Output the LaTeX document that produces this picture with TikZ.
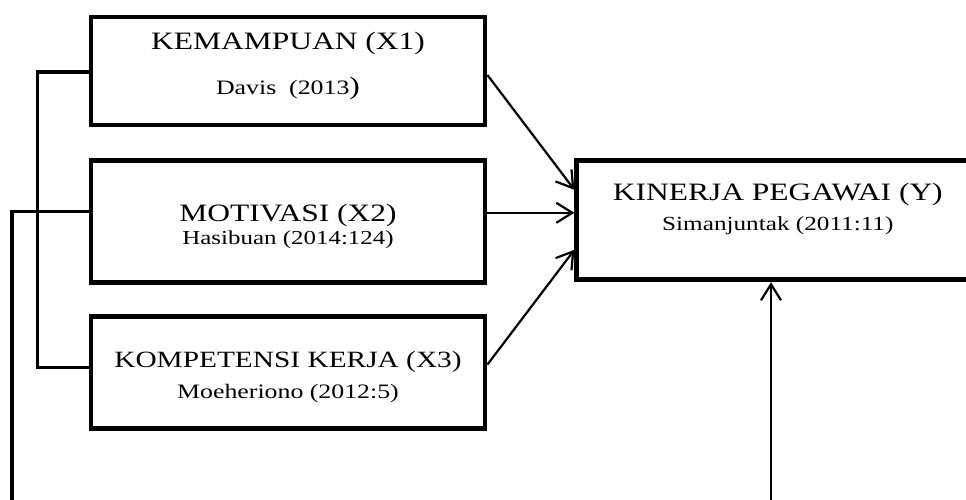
\documentclass[tikz,border=0pt]{standalone}
\usepackage{fontspec}
\setmainfont{Liberation Serif}[FakeStretch=1.26]
\usetikzlibrary{arrows.meta, positioning}

\begin{document}
\begin{tikzpicture}[
    x=1pt, y=-1pt,
    node distance=31pt and 87pt,
    vbox/.style={rectangle, draw=black, line width=4.8pt, minimum width=394pt, inner sep=0pt},
    vtitle/.style={anchor=base, inner sep=0pt, font=\fontsize{25}{30}\selectfont},
    vref/.style={anchor=base, inner sep=0pt, font=\fontsize{20.5}{24}\selectfont},
    arrow/.style={-{Straight Barb[length=16pt, width=20pt]}, line width=2.2pt},
    link/.style={line width=3.2pt}
]
\useasboundingbox (0,0) rectangle (966,500);

% --- variabel bebas ---
\node[vbox, minimum height=108pt] (x1) at (288,71) {};
\node[vbox, minimum height=122pt, below=of x1] (x2) {};
\node[vbox, minimum height=112pt, below=29pt of x2] (x3) {};

% --- variabel terikat ---
\node[vbox, minimum width=402pt, minimum height=119pt, right=of x2, yshift=1.5pt] (y) {};

% --- teks ---
\node[vtitle, yshift=21.5pt] (x1t) at (x1.center) {KEMAMPUAN (X1)};
\node[vref, yshift=-24pt] (x1r) at (x1.center) {Davis\ \ (2013{\fontsize{25}{30}\selectfont)}};
\node[vtitle] (x2t) at (x2.center) {MOTIVASI (X2)};
\node[vref, yshift=-23pt, font=\fontsize{19.8}{24}\selectfont] (x2r) at (x2.center) {Hasibuan (2014:124)};
\node[vtitle, yshift=5pt, font=\fontsize{23.3}{28}\selectfont] (x3t) at (x3.center) {KOMPETENSI KERJA (X3)};
\node[vref, yshift=-26pt] (x3r) at (x3.center) {Moeheriono (2012:5)};
\node[vtitle, yshift=19.5pt] (yt) at (y.center) {KINERJA PEGAWAI (Y)};
\node[vref, yshift=-10.5pt, font=\fontsize{20}{24}\selectfont] (yr) at (y.center) {Simanjuntak (2011:11)};

% --- ujung bawah ---
\coordinate (bl) at (12,500);
\coordinate (br) at (771,500);

% --- garis ---
\draw[link] ([yshift=-1pt]x1.west) -- ++(-51,0) |- ([yshift=5pt]x3.west);
\draw[link] ([yshift=10pt]x2.west) -| (bl);

\draw[arrow] ([yshift=-4pt]x1.east) -- ([yshift=30.5pt]y.west);
\draw[arrow] ([yshift=9pt]x2.east) -- ([yshift=7.5pt]y.west);
\draw[arrow] ([yshift=8pt]x3.east) -- ([yshift=-29.5pt]y.west);
\draw[arrow] (br) -- (br |- y.south);
\end{tikzpicture}
\end{document}
